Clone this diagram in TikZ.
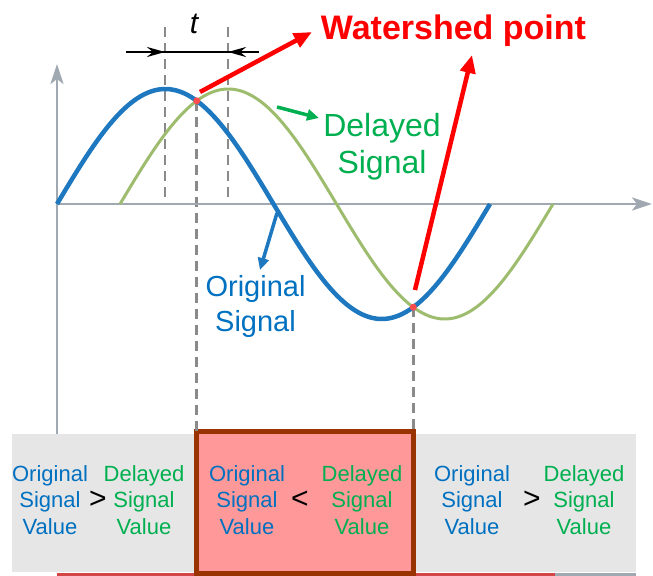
\documentclass[tikz,border=0pt]{standalone}
\usepackage{fontspec}
\setmainfont{Liberation Sans}
\usetikzlibrary{arrows.meta}
\definecolor{axisgray}{RGB}{160,168,178}
\definecolor{dashgray}{RGB}{138,138,138}
\definecolor{curveblue}{RGB}{30,120,192}
\definecolor{curvegreen}{RGB}{158,188,110}
\definecolor{txtblue}{RGB}{0,112,192}
\definecolor{txtgreen}{RGB}{0,176,80}
\definecolor{boxgray}{RGB}{230,230,230}
\definecolor{boxpink}{RGB}{255,153,153}
\definecolor{boxbrown}{RGB}{153,51,0}
\definecolor{lineRed}{RGB}{210,70,70}
\tikzset{
  axisline/.style={draw=axisgray, line width=2.6bp, -{Stealth[length=20bp,width=13bp,inset=5bp]}},
  guide/.style={draw=dashgray, line width=2.8bp, dash pattern=on 10bp off 6bp},
  bluecurve/.style={draw=curveblue, line width=4.5bp},
  greencurve/.style={draw=curvegreen, line width=3bp},
  redarrow/.style={draw=red, line width=4.5bp, -{Triangle[length=18bp,width=15bp]}},
  labelarrow/.style={line width=3.5bp, -{Triangle[length=12bp,width=11bp]}},
  cellblue/.style={text=txtblue, align=center, font=\fontsize{22bp}{26.5bp}\selectfont, inner sep=0pt},
  cellgreen/.style={text=txtgreen, align=center, font=\fontsize{22bp}{26.5bp}\selectfont, inner sep=0pt},
  relsign/.style={font=\fontsize{30bp}{32bp}\selectfont, inner sep=0pt},
  wpoint/.style={circle, fill=red!70!white, inner sep=0pt, minimum size=7bp}
}
\begin{document}
\begin{tikzpicture}[x=1bp,y=-1bp]
\useasboundingbox (0,0) rectangle (653,576);
% bottom comparison strip
\fill[boxgray] (12,434) rectangle (636,572);
\draw[lineRed, line width=3bp] (57,574.5) -- (555,574.5);
\draw[axisgray, line width=3bp] (555,574.5) -- (636,574.5);
\node[draw=boxbrown, fill=boxpink, line width=5bp, minimum width=217bp, minimum height=142bp, inner sep=0pt] (mid) at (305,502.5) {};
% cell texts
\node[cellblue] (o1) at (50,500) {Original\\Signal\\Value};
\node[relsign] (r1) at (98,500) {>};
\node[cellgreen] (d1) at (144,500) {Delayed\\Signal\\Value};
\node[cellblue] (o2) at (247,500) {Original\\Signal\\Value};
\node[relsign] (r2) at (300,500) {<};
\node[cellgreen] (d2) at (362,500) {Delayed\\Signal\\Value};
\node[cellblue] (o3) at (472,500) {Original\\Signal\\Value};
\node[relsign] (r3) at (532,500) {>};
\node[cellgreen] (d3) at (584,500) {Delayed\\Signal\\Value};
% key coordinates
\coordinate (origin) at (57,204);
\coordinate (ytip) at (57,64);
\coordinate (xtip) at (652,204);
\coordinate (ybot) at (57,434);
\coordinate (pk1top) at (165,27);
\coordinate (pk1bot) at (165,204);
\coordinate (pk2top) at (228,27);
\coordinate (pk2bot) at (228,204);
\coordinate (p1bot) at (196.75,434);
\coordinate (p2bot) at (413.25,434);
% dashed guides
\draw[guide] (pk1top) -- (pk1bot);
\draw[guide] (pk2top) -- (pk2bot);
\draw[guide] (196.75,100.8) -- (p1bot);
\draw[guide] (413.25,307.2) -- (p2bot);
% axes
\draw[axisline] (ybot) -- (ytip);
\draw[axisline] (origin) -- (xtip);
% curves
\draw[greencurve] plot[domain=120:553, samples=120, smooth] (\x,{204-115*sin((\x-120)*0.831409)});
\draw[bluecurve] plot[domain=57:490, samples=120, smooth] (\x,{204-115*sin((\x-57)*0.831409)});
% watershed points
\node[wpoint] (w1) at (196.75,100.8) {};
\node[wpoint] (w2) at (413.25,307.2) {};
% t marker
\coordinate (tl) at (126,52);
\coordinate (tr) at (259,52);
\coordinate (ta) at (165,52);
\coordinate (tb) at (228,52);
\draw[black, line width=2.2bp] (tl) -- (tr);
\draw[black, line width=2.2bp, -{Stealth[length=18bp,width=10bp]}] (tl) -- (ta);
\draw[black, line width=2.2bp, -{Stealth[length=18bp,width=10bp]}] (tr) -- (tb);
\node[font=\fontsize{30bp}{32bp}\selectfont\itshape, anchor=base, inner sep=0pt] (tlab) at (194,34) {t};
% labels
\node[text=red, font=\fontsize{34bp}{36bp}\selectfont\bfseries, anchor=base, inner sep=0pt] (ws) at (453.5,40) {Watershed point};
\node[text=txtgreen, align=center, font=\fontsize{32bp}{37bp}\selectfont, inner sep=0pt] (dl) at (382,147) {Delayed\\Signal};
\node[text=txtblue, align=center, font=\fontsize{29bp}{35bp}\selectfont, inner sep=0pt] (ol) at (255.5,306) {Original\\Signal};
% arrows
\coordinate (r1s) at (200,92);
\coordinate (r1e) at (312,32);
\coordinate (r2s) at (415,290);
\coordinate (r2e) at (472,55);
\draw[redarrow] (r1s) -- (r1e);
\draw[redarrow] (r2s) -- (r2e);
\coordinate (gs) at (277,107);
\coordinate (ge) at (319,118);
\draw[labelarrow, draw=txtgreen, fill=txtgreen] (gs) -- (ge);
\coordinate (bs) at (277,213);
\coordinate (be) at (260,270);
\draw[labelarrow, draw=curveblue, fill=curveblue] (bs) -- (be);
\end{tikzpicture}
\end{document}
